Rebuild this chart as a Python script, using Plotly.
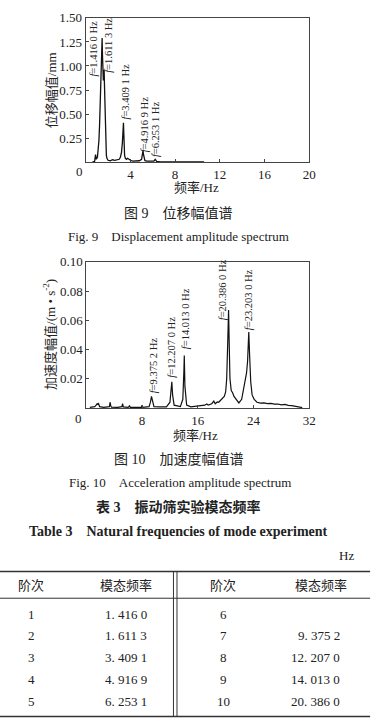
import plotly.graph_objects as go

# ---------------- data ----------------
disp_freq = [0.6, 0.8, 0.88, 0.95, 1.05, 1.12, 1.18, 1.24, 1.3, 1.35, 1.4, 1.44, 1.47, 1.5, 1.54,
             1.58, 1.62, 1.65, 1.68, 1.72, 1.76, 1.8, 1.85, 1.9, 2.0, 2.2, 2.4, 2.6, 2.8, 3.0, 3.1,
             3.2, 3.28, 3.34, 3.38, 3.41, 3.44, 3.48, 3.55, 3.65, 3.75, 3.85, 4.0, 4.2, 4.5, 4.8,
             5.0, 5.08, 5.13, 5.17, 5.22, 5.3, 5.5, 5.8, 6.1, 6.22, 6.27, 6.35, 6.6, 7.0, 7.5, 8.0,
             9.0, 10.0, 10.6]
disp_amp = [0.0, 0.01, 0.08, 0.03, 0.05, 0.12, 0.22, 0.38, 0.6, 0.85, 1.05, 1.2, 1.29, 1.12, 0.88,
            0.85, 0.92, 0.96, 0.8, 0.55, 0.3, 0.15, 0.07, 0.04, 0.02, 0.015, 0.025, 0.02, 0.025, 0.03,
            0.05, 0.1, 0.2, 0.33, 0.41, 0.3, 0.15, 0.07, 0.04, 0.03, 0.04, 0.03, 0.02, 0.012, 0.01,
            0.015, 0.03, 0.07, 0.12, 0.08, 0.03, 0.015, 0.01, 0.008, 0.01, 0.03, 0.02, 0.008, 0.005,
            0.005, 0.004, 0.003, 0.003, 0.002, 0.002]

acc_freq = [0.5, 1.2, 1.4, 1.55, 1.65, 1.75, 1.9, 2.5, 3.3, 3.42, 3.5, 3.6, 4.5, 5.1, 5.2, 5.3, 6.0,
            6.2, 6.3, 7.0, 7.9, 8.0, 8.1, 9.0, 9.2, 9.35, 9.5, 9.7, 10.5, 11.5, 12.0, 12.15, 12.27,
            12.38, 12.6, 13.5, 13.85, 14.0, 14.06, 14.15, 14.4, 15.0, 15.5, 16.0, 16.5, 17.0, 17.3,
            17.5, 18.0, 18.3, 18.5, 18.8, 19.0, 19.3, 19.5, 19.8, 20.0, 20.15, 20.3, 20.42, 20.52,
            20.62, 20.8, 21.0, 21.2, 21.6, 21.9, 22.3, 22.6, 22.85, 23.0, 23.15, 23.32, 23.45, 23.6,
            23.8, 24.1, 24.5, 25.0, 25.5, 26.0, 26.5, 27.0, 27.5, 28.0, 28.5, 29.0, 29.5, 30.0, 30.7,
            31.0]
acc_amp = [0.0005, 0.001, 0.002, 0.003, 0.0025, 0.003, 0.001, 0.0005, 0.001, 0.004, 0.0015, 0.0006,
           0.0005, 0.001, 0.003, 0.0008, 0.0005, 0.0015, 0.0005, 0.0005, 0.0005, 0.002, 0.0005,
           0.001, 0.004, 0.008, 0.004, 0.001, 0.0008, 0.0008, 0.004, 0.012, 0.018, 0.009, 0.002,
           0.001, 0.006, 0.025, 0.036, 0.015, 0.002, 0.0008, 0.0012, 0.0015, 0.0018, 0.002, 0.0028,
           0.002, 0.003, 0.0048, 0.003, 0.0042, 0.004, 0.0055, 0.0058, 0.008, 0.011, 0.02, 0.045,
           0.067, 0.042, 0.02, 0.012, 0.0105, 0.008, 0.005, 0.0035, 0.006, 0.014, 0.0225, 0.024,
           0.032, 0.052, 0.035, 0.018, 0.009, 0.006, 0.004, 0.0034, 0.0035, 0.003, 0.0032, 0.0027,
           0.0028, 0.0022, 0.0025, 0.0018, 0.0017, 0.0012, 0.0005, 0.0003]

disp_ticks = [0.25, 0.5, 0.75, 1.0, 1.25, 1.5]
disp_ticktext = ["0.25", "0.50", "0.75", "1.00", "1.25", "1.50"]
disp_xticks = [4, 8, 12, 16, 20]
acc_ticks = [0.02, 0.04, 0.06, 0.08, 0.10]
acc_ticktext = ["0.02", "0.04", "0.06", "0.08", "0.10"]
acc_xticks = [8, 16, 24, 32]

disp_peak_labels = ["1.416 0", "1.611 3", "3.409 1", "4.916 9", "6.253 1"]
acc_peak_labels = ["9.375 2", "12.207 0", "14.013 0", "20.386 0", "23.203 0"]

table_orders_left = ["1", "2", "3", "4", "5"]
table_freqs_left = ["1. 416 0", "1. 611 3", "3. 409 1", "4. 916 9", "6. 253 1"]
table_orders_right = ["6", "7", "8", "9", "10"]
table_freqs_right = ["", "9. 375 2", "12. 207 0", "14. 013 0", "20. 386 0"]

# ---------------- layout helpers ----------------
W, H = 381, 723
def X(p):
    return p / W
def Y(p):
    return 1 - p / H

SERIF = "Liberation Serif, 'Noto Sans CJK SC', serif"
TXT = "#222"
LINE = "#444"

fig = go.Figure()
fig.add_trace(go.Scatter(x=disp_freq, y=disp_amp, mode="lines",
                         line=dict(color="#111", width=1.3), xaxis="x", yaxis="y",
                         showlegend=False, hoverinfo="skip"))
fig.add_trace(go.Scatter(x=acc_freq, y=acc_amp, mode="lines",
                         line=dict(color="#111", width=1.2), xaxis="x2", yaxis="y2",
                         showlegend=False, hoverinfo="skip"))

axis_common = dict(showline=True, mirror=True, linecolor=LINE, linewidth=1,
                   ticks="inside", ticklen=3, tickcolor=LINE, showgrid=False,
                   zeroline=False, tickfont=dict(family=SERIF, size=13, color=TXT))

fig.update_layout(
    width=W, height=H, margin=dict(l=0, r=0, t=0, b=0),
    paper_bgcolor="white", plot_bgcolor="white",
    xaxis=dict(domain=[X(87.3), X(315)], range=[0, 20], anchor="y",
               tickvals=disp_xticks, ticktext=[str(v) for v in disp_xticks], **axis_common),
    yaxis=dict(domain=[Y(156.7), Y(11)], range=[0, 1.5], anchor="x",
               tickvals=disp_ticks, ticktext=disp_ticktext, **axis_common),
    xaxis2=dict(domain=[X(88), X(315)], range=[0, 32], anchor="y2",
                tickvals=acc_xticks, ticktext=[str(v) for v in acc_xticks], **axis_common),
    yaxis2=dict(domain=[Y(405), Y(257.3)], range=[0, 0.10], anchor="x2",
                tickvals=acc_ticks, ticktext=acc_ticktext, **axis_common),
)

ann = []
def text(s, x, y, size=13, xanchor="center", yanchor="middle", angle=0, color=TXT):
    ann.append(dict(text=s, x=X(x), y=Y(y), xref="paper", yref="paper",
                    xanchor=xanchor, yanchor=yanchor, textangle=angle, showarrow=False,
                    font=dict(family=SERIF, size=size, color=color)))

# origin labels
text("0", 81, 166)
text("0", 80, 415.5)

# axis titles
text("位移幅值/mm", 52, 84, size=13, angle=-90)
text("频率/Hz", 200, 182, size=13)
text("加速度幅值/(m • s<sup>-2</sup>)", 50, 331, size=13, angle=-90)
text("频率/Hz", 199, 433, size=13)

# peak labels (center x, bottom y)
for lab, (px, py) in zip(disp_peak_labels, [(95, 72), (111, 68), (128, 116), (147.5, 149), (158.5, 154)]):
    text("<i>f</i>=" + lab + " Hz", px, py, size=10.5, yanchor="bottom", angle=-90)
for lab, (px, py) in zip(acc_peak_labels, [(156, 392), (175, 376), (188.5, 348), (227, 318), (252.5, 328)]):
    text("<i>f</i>=" + lab + " Hz", px, py, size=10.5, yanchor="bottom", angle=-90)

# captions
text("图 9\u2003位移幅值谱", 182, 209, size=14)
text("Fig. 9\u2003Displacement amplitude spectrum", 182, 232, size=13)
text("图 10\u2003加速度幅值谱", 182, 457, size=14)
text("Fig. 10\u2003Acceleration amplitude spectrum", 183, 480, size=13)

# table titles
text("<b>表 3\u2003振动筛实验模态频率</b>", 182, 505, size=14)
text("<b>Table 3\u2003Natural frequencies of mode experiment</b>", 182, 530, size=14)
text("Hz", 363, 554, size=13, xanchor="right")

# table headers
text("阶次", 32, 584, size=13)
text("模态频率", 128, 584, size=13)
text("阶次", 227.5, 584, size=13)
text("模态频率", 327, 584, size=13)

row_y = [613, 635, 657, 679, 701]
for o, f, yy in zip(table_orders_left, table_freqs_left, row_y):
    text(o, 32, yy)
    text(f, 128, yy)
for o, f, yy in zip(table_orders_right, table_freqs_right, row_y):
    text(o, 227.5, yy)
    if f:
        text(f, 348, yy, xanchor="right")

fig.update_layout(annotations=ann)

shapes = []
def hline(y, x0, x1, w=1):
    shapes.append(dict(type="line", xref="paper", yref="paper", x0=X(x0), x1=X(x1),
                       y0=Y(y), y1=Y(y), line=dict(color="#333", width=w)))
def vline(x, y0, y1, w=1):
    shapes.append(dict(type="line", xref="paper", yref="paper", x0=X(x), x1=X(x),
                       y0=Y(y0), y1=Y(y1), line=dict(color="#333", width=w)))

hline(570, 0, 377, 1.5)
hline(597, 0, 377, 1)
hline(716.5, 0, 377, 1.5)
vline(176.7, 570, 716.5)
vline(180.3, 570, 716.5)
fig.update_layout(shapes=shapes)

fig.write_html("out.html", config={"displayModeBar": False},
               post_script="document.body.style.margin='0';document.body.style.overflow='hidden';")
